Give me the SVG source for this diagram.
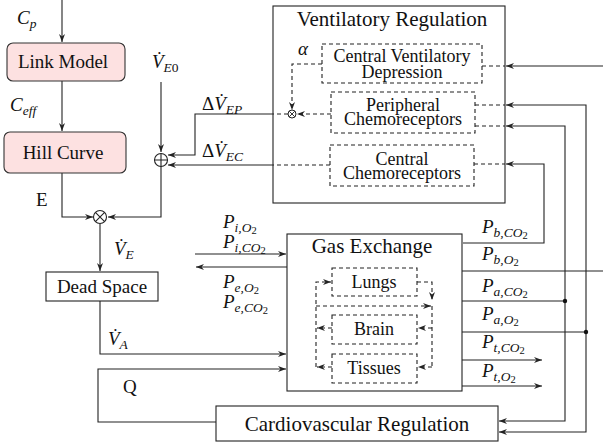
<svg xmlns="http://www.w3.org/2000/svg" width="603" height="445" viewBox="0 0 603 445" font-family="'Liberation Serif', 'Times New Roman', 'DejaVu Serif', serif">
<defs>
<marker id="ar" markerUnits="userSpaceOnUse" markerWidth="9" markerHeight="7" refX="8" refY="3.5" orient="auto">
<path d="M0,0.5 L8,3.5 L0,6.5 L2.5,3.5 z" fill="#222"/>
</marker>
<style>
.ln{fill:none;stroke:#222;stroke-width:1.1}
.dl{fill:none;stroke:#222;stroke-width:1.1;stroke-dasharray:4,3}
.a{marker-end:url(#ar)}
.bx{fill:none;stroke:#222;stroke-width:1.1}
.db{fill:none;stroke:#222;stroke-width:1.1;stroke-dasharray:4,3}
.pk{fill:#fde1e1;stroke:#333;stroke-width:1.1}
text{fill:#111}
.big{font-size:21px}
.mid{font-size:19px}
.sm{font-size:18px}
.m{font-style:italic;font-size:19px}
.s1{font-size:13.5px}
.s2{font-size:10.5px;font-style:normal}
.up{font-style:normal}
</style>
</defs>

<g id="connectors">
<path class="ln a" d="M62,0 V42"/>
<path class="ln a" d="M62,81 V131"/>
<path class="ln a" d="M161,82 V152"/>
<path class="ln a" d="M62,173 V217 H93"/>
<path class="ln a" d="M161,167 V217 H108"/>
<path class="ln a" d="M100,224 V271"/>
<path class="ln a" d="M100,301 V354 H286"/>
<path class="ln a" d="M216,422 H98 V369 H286"/>
<path class="ln a" d="M195,254 H286"/>
<path class="ln a" d="M287,267 H196"/>
<path class="ln a" d="M273,114 H195 V155 H168"/>
<path class="ln a" d="M273,165 H168"/>
<path class="dl" d="M288,114 H273"/>
<path class="dl" d="M330,165 H273"/>
<path class="dl" d="M322,64 H292 V110" marker-end="url(#ar)"/>
<path class="dl" d="M331,114 H297" marker-end="url(#ar)"/>
<path class="dl" d="M482,66 H505"/>
<path class="dl" d="M475,105 H505"/>
<path class="dl" d="M475,126 H505"/>
<path class="dl" d="M474,164 H505"/>
<path class="ln a" d="M603,66 H506"/>
<path class="ln a" d="M586,332 V105 H506"/>
<path class="ln a" d="M565,301 V126 H506"/>
<path class="ln a" d="M463,243 H544 V164 H506"/>
<path class="ln" d="M462,271 H603"/>
<path class="ln" d="M462,301 H565"/>
<path class="ln" d="M462,332 H586"/>
<path class="ln a" d="M565,301 V421 H499"/>
<path class="ln a" d="M586,332 V432 H499"/>
<path class="ln a" d="M462,360 H542"/>
<path class="ln a" d="M462,386 H542"/>
<circle cx="565" cy="301" r="2.2" fill="#111"/>
<circle cx="586" cy="332" r="2.2" fill="#111"/>
<path class="dl a" d="M316,367 V282 H331"/>
<path class="dl a" d="M417,282 H432 V300"/>
<path class="dl a" d="M316,306 H431"/>
<path class="dl" d="M432,306 V367"/>
<path class="dl a" d="M432,328 H418"/>
<path class="dl a" d="M432,367 H418"/>
<path class="dl a" d="M332,328 H317"/>
<path class="dl a" d="M332,367 H317"/>
</g>

<g id="link-model">
<rect class="pk" x="7" y="43" width="118" height="38" rx="6"/>
<text class="mid" x="63" y="68" text-anchor="middle">Link Model</text>
</g>
<g id="hill-curve">
<rect class="pk" x="4" y="132" width="122" height="41" rx="6"/>
<text class="mid" x="63" y="159" text-anchor="middle">Hill Curve</text>
</g>
<g id="sum">
<circle class="ln" cx="161" cy="160" r="6.5"/>
<path class="ln" d="M154.5,160 H167.5 M161,153.5 V166.5"/>
</g>
<g id="mult">
<circle class="ln" cx="100" cy="217" r="6.5"/>
<path class="ln" d="M95.4,212.4 L104.6,221.6 M104.6,212.4 L95.4,221.6"/>
</g>
<g id="dead-space">
<rect class="bx" x="46" y="272" width="112" height="29"/>
<text class="mid" x="102" y="293" text-anchor="middle">Dead Space</text>
</g>
<g id="ventilatory-regulation">
<rect class="bx" x="273" y="6" width="232" height="197"/>
<text class="big" x="392" y="26" text-anchor="middle">Ventilatory Regulation</text>
</g>
<g id="cvd">
<rect class="db" x="322" y="44" width="160" height="39"/>
<text class="sm" text-anchor="middle"><tspan x="402" y="62">Central Ventilatory</tspan><tspan x="402" y="78">Depression</tspan></text>
</g>
<g id="peripheral">
<rect class="db" x="331" y="92" width="144" height="41"/>
<text class="sm" text-anchor="middle"><tspan x="403" y="111">Peripheral</tspan><tspan x="403" y="125">Chemoreceptors</tspan></text>
</g>
<g id="central">
<rect class="db" x="330" y="145" width="144" height="41"/>
<text class="sm" text-anchor="middle"><tspan x="402" y="165">Central</tspan><tspan x="402" y="179">Chemoreceptors</tspan></text>
</g>
<g id="mult-small">
<circle cx="292" cy="114" r="4" fill="#fff" stroke="#222" stroke-width="1"/>
<path d="M289.2,111.2 L294.8,116.8 M294.8,111.2 L289.2,116.8" stroke="#222" stroke-width="0.9"/>
</g>
<g id="gas-exchange">
<rect class="bx" x="287" y="234" width="175" height="157"/>
<text class="big" x="372" y="253" text-anchor="middle">Gas Exchange</text>
</g>
<g id="lungs">
<rect class="db" x="332" y="268" width="85" height="28"/>
<text class="sm" x="374" y="288" text-anchor="middle">Lungs</text>
</g>
<g id="brain">
<rect class="db" x="332" y="315" width="85" height="29"/>
<text class="sm" x="374" y="335" text-anchor="middle">Brain</text>
</g>
<g id="tissues">
<rect class="db" x="332" y="354" width="85" height="29"/>
<text class="sm" x="374" y="374" text-anchor="middle">Tissues</text>
</g>
<g id="cardiovascular">
<rect class="bx" x="216" y="406" width="282" height="35"/>
<text class="big" x="357" y="431" text-anchor="middle">Cardiovascular Regulation</text>
</g>

<g id="labels">
<text class="m" x="17" y="24">C<tspan class="s1" dy="4">p</tspan></text>
<text class="m" x="10" y="111">C<tspan class="s1" dy="4">eff</tspan></text>
<text class="m" x="152" y="68">V̇<tspan class="s1" dy="4">E</tspan><tspan class="s1 up">0</tspan></text>
<text class="m" x="202" y="110"><tspan class="up">Δ</tspan>V̇<tspan class="s1" dy="4">EP</tspan></text>
<text class="m" x="202" y="157"><tspan class="up">Δ</tspan>V̇<tspan class="s1" dy="4">EC</tspan></text>
<text class="m" x="298" y="55">α</text>
<text class="mid" x="36" y="206">E</text>
<text class="m" x="114" y="255">V̇<tspan class="s1" dy="4">E</tspan></text>
<text class="m" x="108" y="345">V̇<tspan class="s1" dy="4">A</tspan></text>
<text class="mid" x="123" y="393">Q</text>
<text class="m" x="223" y="228">P<tspan class="s1" dy="4">i,O</tspan><tspan class="s2" dy="2">2</tspan></text>
<text class="m" x="223" y="248">P<tspan class="s1" dy="4">i,CO</tspan><tspan class="s2" dy="2">2</tspan></text>
<text class="m" x="223" y="288">P<tspan class="s1" dy="4">e,O</tspan><tspan class="s2" dy="2">2</tspan></text>
<text class="m" x="223" y="308">P<tspan class="s1" dy="4">e,CO</tspan><tspan class="s2" dy="2">2</tspan></text>
<text class="m" x="482" y="233">P<tspan class="s1" dy="4">b,CO</tspan><tspan class="s2" dy="2">2</tspan></text>
<text class="m" x="482" y="260">P<tspan class="s1" dy="4">b,O</tspan><tspan class="s2" dy="2">2</tspan></text>
<text class="m" x="482" y="292">P<tspan class="s1" dy="4">a,CO</tspan><tspan class="s2" dy="2">2</tspan></text>
<text class="m" x="482" y="320">P<tspan class="s1" dy="4">a,O</tspan><tspan class="s2" dy="2">2</tspan></text>
<text class="m" x="482" y="348">P<tspan class="s1" dy="4">t,CO</tspan><tspan class="s2" dy="2">2</tspan></text>
<text class="m" x="482" y="377">P<tspan class="s1" dy="4">t,O</tspan><tspan class="s2" dy="2">2</tspan></text>
</g>
</svg>
